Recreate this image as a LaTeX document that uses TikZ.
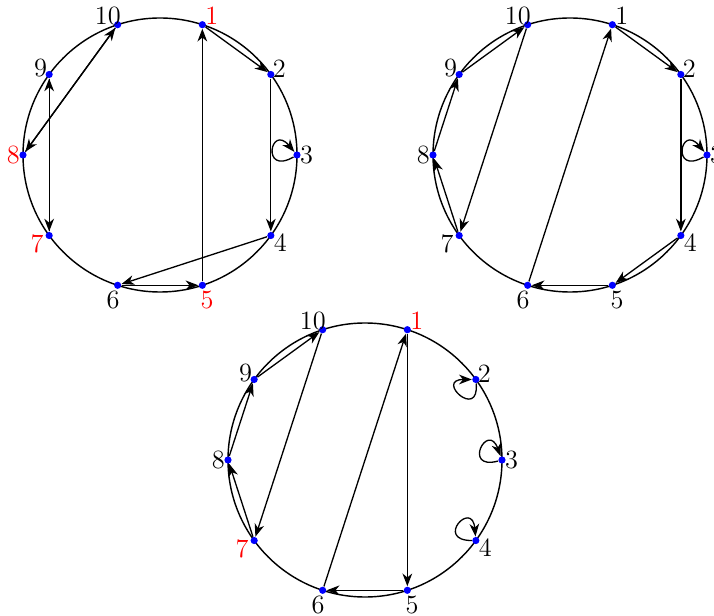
\documentclass[tikz,border=0pt]{standalone}
\usetikzlibrary{arrows.meta}
\begin{document}
\begin{tikzpicture}[
  dot/.style={circle,fill=blue,inner sep=0pt,minimum size=1.15mm},
  num/.style={inner sep=0pt,font=\large},
  rim/.style={line width=.65pt},
  link/.style={-{Stealth[length=5.8pt,width=4.4pt,inset=1.8pt]},line width=.6pt},
  selfloop/.style={link,loop,min distance=6mm}
]
  \useasboundingbox (0,0) rectangle (11.424,9.84);
  \clip (0,0) rectangle (11.424,9.84);

  % three rings of ten points, red labels listed per ring
  \foreach \g/\cx/\cy/\reds in {a/2.56/7.36/{1,5,7,8},b/9.12/7.36/{0},c/5.84/2.48/{1,7}}{
    \begin{scope}[shift={(\cx,\cy)}]
      \draw[rim] (0,0) circle (2.192);
      \foreach \k in {1,...,10}{
        \pgfmathsetmacro{\ang}{108-36*\k}
        \pgfmathsetmacro{\lang}{\ang+{0,-2.5,0,0,0,0,0,0,0,0,2.5}[\k]}
        \pgfmathsetmacro{\rr}{2.192+{0,0.18,0.168,0.155,0.19,0.24,0.24,0.24,0.155,0.168,0.19}[\k]}
        \gdef\col{black}
        \foreach \r in \reds {\ifnum\r=\k\relax\gdef\col{red}\fi}
        \node[dot] (\g\k) at (\ang:2.192) {};
        \node[num,text=\col] (\g\k n) at (\lang:\rr) {\k};
      }
    \end{scope}
  }

  \foreach \s/\t in {a1/a2,a2/a4,a4/a6,a6/a5,a5/a1,a7/a9,a9/a7,a8/a10,a10/a8,
      b1/b2,b2/b4,b4/b5,b5/b6,b6/b1,b7/b8,b8/b9,b9/b10,b10/b7,
      c1/c5,c5/c6,c6/c1,c7/c8,c8/c9,c9/c10,c10/c7}
    \draw[link] (\s) -- (\t);

  \draw[selfloop,out=210,in=130] (a3) to (a3);
  \draw[selfloop,out=210,in=130] (b3) to (b3);
  \draw[selfloop,out=275,in=180] (c2) to (c2);
  \draw[selfloop,out=195,in=110] (c3) to (c3);
  \draw[selfloop,out=180,in=95] (c4) to (c4);
\end{tikzpicture}
\end{document}
